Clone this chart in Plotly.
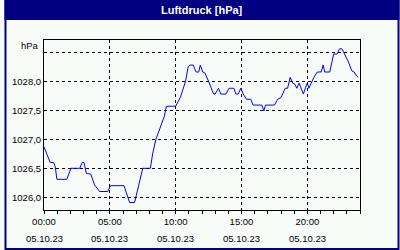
import pandas as pd
import plotly.graph_objects as go

# ---- data ----
hours = [0.0, 0.35, 0.47, 0.73, 0.85, 0.98, 1.73, 2.05, 2.72, 2.9, 3.04, 3.22, 3.55,
         3.85, 4.22, 4.85, 5.05, 6.08, 6.5, 6.88, 7.5, 8.08, 8.25, 8.5, 8.87, 9.13,
         9.3, 10.0, 10.37, 10.75, 10.95, 11.08, 11.33, 11.55, 11.75, 11.87, 12.05,
         12.2, 12.5, 12.88, 13.0, 13.25, 13.43, 13.82, 14.05, 14.42, 14.57, 14.75,
         14.95, 15.13, 15.38, 15.7, 15.88, 16.55, 16.7, 16.82, 17.5, 17.75, 18.0,
         18.13, 18.32, 18.5, 18.7, 18.88, 19.05, 19.2, 19.37, 19.5, 19.7, 19.88,
         20.0, 20.12, 20.3, 20.5, 20.75, 21.05, 21.2, 21.32, 21.7, 21.88, 22.0,
         22.25, 22.45, 22.63, 22.88, 23.13, 23.38, 23.55, 23.75, 23.87]
pressure = [1026.87, 1026.67, 1026.6, 1026.6, 1026.53, 1026.31, 1026.31, 1026.5,
            1026.5, 1026.6, 1026.6, 1026.41, 1026.4, 1026.21, 1026.1, 1026.1, 1026.2,
            1026.2, 1025.91, 1025.91, 1026.5, 1026.5, 1026.75, 1027.0, 1027.22,
            1027.39, 1027.57, 1027.57, 1027.73, 1028.0, 1028.25, 1028.28, 1028.28,
            1028.16, 1028.16, 1028.28, 1028.16, 1028.15, 1028.0, 1027.78, 1027.78,
            1027.88, 1027.78, 1027.78, 1027.88, 1027.88, 1027.78, 1027.78, 1027.88,
            1027.78, 1027.69, 1027.69, 1027.59, 1027.59, 1027.49, 1027.59, 1027.59,
            1027.69, 1027.72, 1027.79, 1027.88, 1027.88, 1028.07, 1027.97, 1027.95,
            1027.88, 1027.97, 1027.9, 1027.78, 1027.9, 1027.97, 1027.88, 1027.97,
            1028.07, 1028.16, 1028.16, 1028.28, 1028.16, 1028.16, 1028.36, 1028.47,
            1028.47, 1028.56, 1028.56, 1028.45, 1028.33, 1028.18, 1028.16, 1028.09,
            1028.07]

base_day = "2023-10-05"
x_tick_hours = [0, 5, 10, 15, 20]
x_tick_time = ["00:00", "05:00", "10:00", "15:00", "20:00"]
x_tick_date = ["05.10.23"] * 5
y_tick_vals = [1026.0, 1026.5, 1027.0, 1027.5, 1028.0, 1028.5]
y_tick_text = ["1026,0", "1026,5", "1027,0", "1027,5", "1028,0", ""]
title_text = "Luftdruck [hPa]"
unit_text = "hPa"

# ---- build ----
base = pd.Timestamp(base_day)
times = [base + pd.Timedelta(hours=h) for h in hours]
tick_times = [base + pd.Timedelta(hours=h) for h in x_tick_hours]

W, H = 400, 250
L, R, T, B = 40, 40, 40, 40
PW, PH = W - L - R, H - T - B


def px_x(px):
    return (px - L) / PW


def px_y(py):
    return (H - B - py) / PH


NAVY = "#000080"
BG = "#F8FCF8"
FONT = "Liberation Sans"

fig = go.Figure()
fig.add_trace(go.Scatter(x=times, y=pressure, mode="lines",
                         line=dict(color="#0000FF", width=1), hoverinfo="skip"))

grid = dict(showgrid=True, gridcolor="black", gridwidth=1, griddash="3px,3px")

fig.update_xaxes(
    range=[base, base + pd.Timedelta(hours=24)],
    tickvals=tick_times, ticktext=x_tick_time,
    ticks="outside", ticklen=3, tickcolor="black", tickwidth=1,
    minor=dict(dtick=3600000, ticks="outside", ticklen=3, tickcolor="black", showgrid=False),
    showline=True, linecolor="black", linewidth=1, mirror=True,
    tickfont=dict(family=FONT, size=9.5, color="black"),
    zeroline=False, fixedrange=True, **grid)

fig.update_yaxes(
    range=[1025.781, 1028.712],
    tickvals=y_tick_vals, ticktext=y_tick_text,
    ticks="", showline=True, linecolor="black", linewidth=1, mirror=True,
    tickfont=dict(family=FONT, size=9.5, color="black"),
    zeroline=False, fixedrange=True, **grid)

annotations = [
    dict(text="<b>" + title_text + "</b>", x=0.5, y=px_y(10), xref="paper", yref="paper",
         showarrow=False, font=dict(family=FONT, size=11, color="white"),
         xanchor="center", yanchor="middle"),
    dict(text=unit_text, x=px_x(37), y=px_y(45), xref="paper", yref="paper",
         showarrow=False, font=dict(family=FONT, size=9.5, color="black"),
         xanchor="right", yanchor="middle"),
]
for t, d in zip(tick_times, x_tick_date):
    annotations.append(dict(text=d, x=t, y=px_y(238), xref="x", yref="paper",
                            showarrow=False, font=dict(family=FONT, size=9.5, color="black"),
                            xanchor="center", yanchor="middle"))

shapes = [
    dict(type="rect", xref="paper", yref="paper", x0=px_x(0), x1=px_x(W), y0=px_y(20), y1=px_y(0),
         fillcolor=NAVY, line=dict(width=0), layer="above"),
    dict(type="rect", xref="paper", yref="paper", x0=px_x(1), x1=px_x(W - 1), y0=px_y(H - 1), y1=px_y(1),
         line=dict(color=NAVY, width=2), layer="above"),
]

fig.update_layout(
    width=W, height=H, margin=dict(l=L, r=R, t=T, b=B, pad=0),
    paper_bgcolor=BG, plot_bgcolor=BG, showlegend=False,
    annotations=annotations, shapes=shapes,
)

fig.write_html("out.html", config={"displayModeBar": False})
